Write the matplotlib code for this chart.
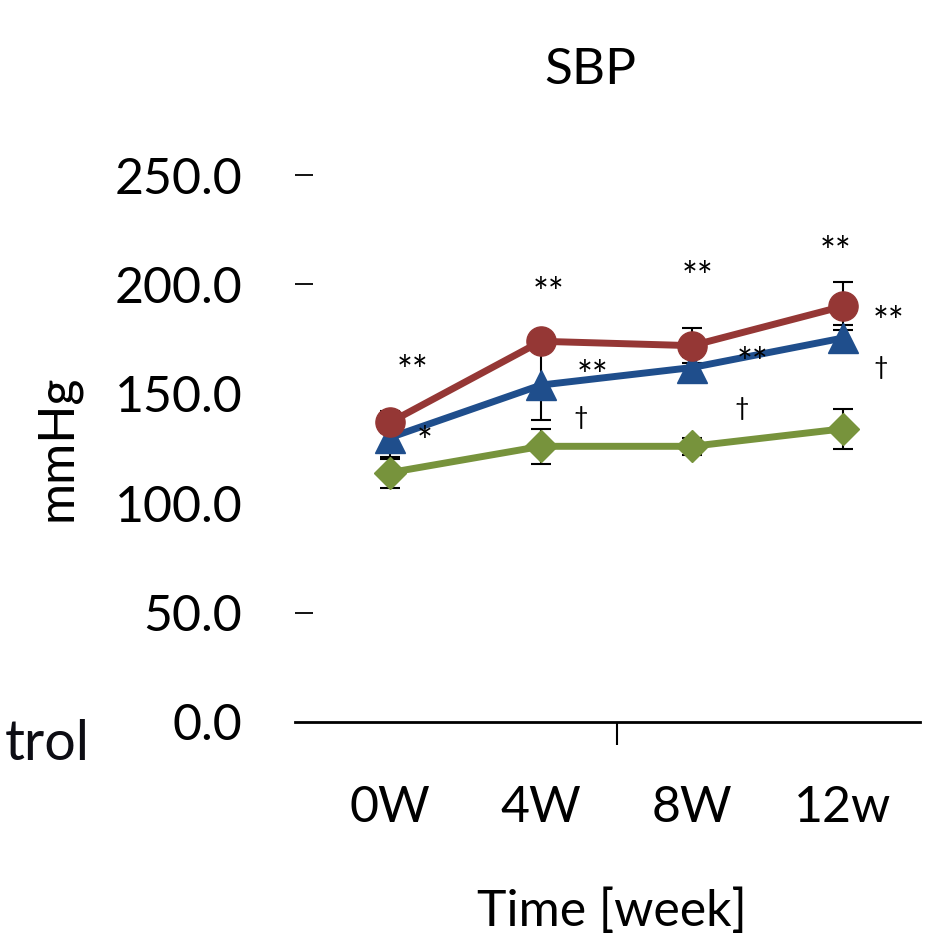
import matplotlib
matplotlib.use("Agg")
import matplotlib.pyplot as plt

plt.rcParams['font.family'] = ['Lato', 'DejaVu Sans']

weeks = ["0W", "4W", "8W", "12w"]
red_vals = [137, 174, 172, 190]
red_err = [5, 3, 8, 11]
blue_vals = [130, 154, 162, 175.5]
blue_err = [10, 16, 5, 6]
green_vals = [114, 126, 126, 134]
green_err = [7, 8, 4, 9]
yticks = [0, 50, 100, 150, 200, 250]

# significance marks: (x, y, text)
marks = [
    (0.15, 164.5, "**"), (0.23, 132, "*"),
    (1.05, 200, "**"), (1.34, 162, "**"), (1.26, 139, "†"),
    (2.04, 207.5, "**"), (2.40, 168, "**"), (2.33, 143.5, "†"),
    (2.95, 219, "**"), (3.30, 187, "**"), (3.25, 162, "†"),
]

fig = plt.figure(figsize=(9.47, 9.41), dpi=100)
ax = fig.add_axes([295/947, 1-722/941, 625/947, (722-175)/941])

x = list(range(len(weeks)))
series = [
    (green_vals, green_err, "#77933C", "D", 16),
    (blue_vals, blue_err, "#1F4E8C", "^", 21),
    (red_vals, red_err, "#953735", "o", 21),
]
for vals, err, col, mk, ms in series:
    ax.errorbar(x, vals, yerr=err, fmt="none", ecolor="black", elinewidth=1.5,
                capsize=7, capthick=1.5, zorder=2)
    ax.plot(x, vals, color=col, lw=5, marker=mk, markersize=ms, zorder=3)

for tx, ty, s in marks:
    if s == "†":
        ax.text(tx, ty, s, fontsize=18, ha="center", va="center", zorder=4)
    else:
        # Lato asterisks sit high in the text box, nudge them down
        ax.text(tx, ty - 5, s, fontsize=27, ha="center", va="center", zorder=4)

ax.set_xlim(-0.63, 3.51)
ax.set_ylim(0, 250)
ax.set_yticks(yticks)
ax.set_yticklabels([f"{v:.1f}" for v in yticks], fontsize=36)
ax.set_xticks(x)
ax.set_xticklabels(weeks, fontsize=36)
ax.set_xticks([1.5], minor=True)

for side in ["top", "right", "left"]:
    ax.spines[side].set_visible(False)
ax.spines["bottom"].set_linewidth(2)

ax.tick_params(axis="y", direction="in", length=13, width=1.3, pad=38)
ax.tick_params(axis="x", which="major", length=0, pad=45)
ax.tick_params(axis="x", which="minor", direction="out", length=16.5, width=1.5)

for v, t in zip(yticks, ax.yaxis.get_major_ticks()):
    if v in (0, 100, 150):
        t.tick1line.set_visible(False)

ax.set_ylabel("mmHg", fontsize=36, labelpad=0)
ax.yaxis.set_label_coords((80-295)/625, (722-448)/547)
ax.set_xlabel("Time [week]", fontsize=36)
ax.xaxis.set_label_coords((612-295)/625, -(888-722)/547)

fig.text(590/947, 1-70/941, "SBP", fontsize=37, ha="center", va="center")
fig.text(90/947, 1-745/941, "trol", fontsize=40, ha="right", va="center",
         color="#0d0d14")

fig.savefig("out.png", dpi=100)
